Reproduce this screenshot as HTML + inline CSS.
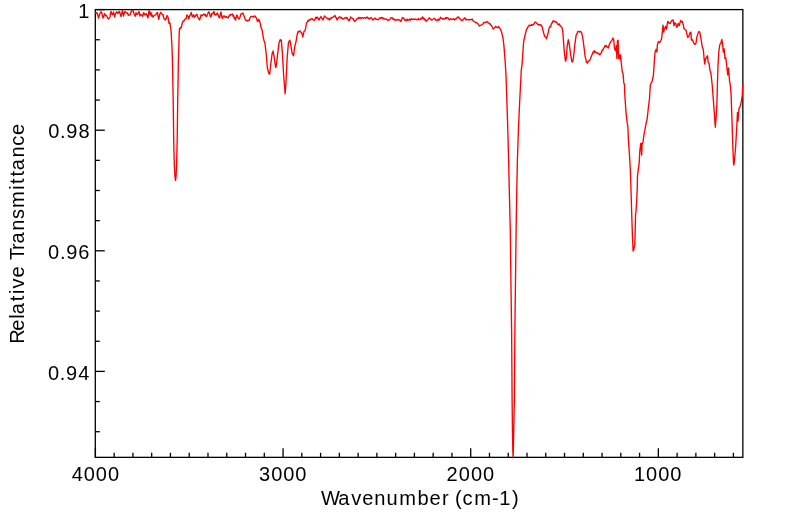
<!DOCTYPE html>
<html><head><meta charset="utf-8"><style>
html,body{margin:0;padding:0;background:#fff;}
body{width:799px;height:516px;overflow:hidden;}
svg{display:block;will-change:transform;}
text{font-family:"Liberation Sans",sans-serif;fill:#000;}
</style></head><body>
<svg width="799" height="516" viewBox="0 0 799 516">
<rect x="0" y="0" width="799" height="516" fill="#fff"/>
<defs><clipPath id="c"><rect x="94.3" y="8.6" width="649.5500000000001" height="449.25"/></clipPath></defs>
<g stroke="#000" stroke-width="1.3" fill="none">
<rect x="95.3" y="9.6" width="647.5500000000001" height="447.75"/>
<line x1="95.40" y1="457.35" x2="95.40" y2="448.35"/><line x1="114.17" y1="457.35" x2="114.17" y2="452.75"/><line x1="132.93" y1="457.35" x2="132.93" y2="452.75"/><line x1="151.69" y1="457.35" x2="151.69" y2="452.75"/><line x1="170.46" y1="457.35" x2="170.46" y2="452.75"/><line x1="189.23" y1="457.35" x2="189.23" y2="452.75"/><line x1="207.99" y1="457.35" x2="207.99" y2="452.75"/><line x1="226.76" y1="457.35" x2="226.76" y2="452.75"/><line x1="245.52" y1="457.35" x2="245.52" y2="452.75"/><line x1="264.29" y1="457.35" x2="264.29" y2="452.75"/><line x1="283.05" y1="457.35" x2="283.05" y2="448.35"/><line x1="301.82" y1="457.35" x2="301.82" y2="452.75"/><line x1="320.58" y1="457.35" x2="320.58" y2="452.75"/><line x1="339.35" y1="457.35" x2="339.35" y2="452.75"/><line x1="358.11" y1="457.35" x2="358.11" y2="452.75"/><line x1="376.88" y1="457.35" x2="376.88" y2="452.75"/><line x1="395.64" y1="457.35" x2="395.64" y2="452.75"/><line x1="414.40" y1="457.35" x2="414.40" y2="452.75"/><line x1="433.17" y1="457.35" x2="433.17" y2="452.75"/><line x1="451.94" y1="457.35" x2="451.94" y2="452.75"/><line x1="470.70" y1="457.35" x2="470.70" y2="448.35"/><line x1="489.47" y1="457.35" x2="489.47" y2="452.75"/><line x1="508.23" y1="457.35" x2="508.23" y2="452.75"/><line x1="527.00" y1="457.35" x2="527.00" y2="452.75"/><line x1="545.76" y1="457.35" x2="545.76" y2="452.75"/><line x1="564.52" y1="457.35" x2="564.52" y2="452.75"/><line x1="583.29" y1="457.35" x2="583.29" y2="452.75"/><line x1="602.06" y1="457.35" x2="602.06" y2="452.75"/><line x1="620.82" y1="457.35" x2="620.82" y2="452.75"/><line x1="639.59" y1="457.35" x2="639.59" y2="452.75"/><line x1="658.35" y1="457.35" x2="658.35" y2="448.35"/><line x1="677.12" y1="457.35" x2="677.12" y2="452.75"/><line x1="695.88" y1="457.35" x2="695.88" y2="452.75"/><line x1="714.64" y1="457.35" x2="714.64" y2="452.75"/><line x1="733.41" y1="457.35" x2="733.41" y2="452.75"/><line x1="95.3" y1="9.60" x2="104.8" y2="9.60"/><line x1="95.3" y1="39.75" x2="99.8" y2="39.75"/><line x1="95.3" y1="69.90" x2="99.8" y2="69.90"/><line x1="95.3" y1="100.05" x2="99.8" y2="100.05"/><line x1="95.3" y1="130.20" x2="104.8" y2="130.20"/><line x1="95.3" y1="160.35" x2="99.8" y2="160.35"/><line x1="95.3" y1="190.50" x2="99.8" y2="190.50"/><line x1="95.3" y1="220.65" x2="99.8" y2="220.65"/><line x1="95.3" y1="250.80" x2="104.8" y2="250.80"/><line x1="95.3" y1="280.95" x2="99.8" y2="280.95"/><line x1="95.3" y1="311.10" x2="99.8" y2="311.10"/><line x1="95.3" y1="341.25" x2="99.8" y2="341.25"/><line x1="95.3" y1="371.40" x2="104.8" y2="371.40"/><line x1="95.3" y1="401.55" x2="99.8" y2="401.55"/><line x1="95.3" y1="431.70" x2="99.8" y2="431.70"/>
</g>
<path d="M95.30,13.00 L95.87,12.71 L96.43,13.24 L97.00,12.75 L97.75,15.19 L98.50,18.00 L99.25,15.50 L100.00,13.50 L100.75,12.01 L101.50,12.00 L102.25,14.83 L103.00,18.00 L103.75,16.64 L104.50,13.50 L105.17,14.51 L105.83,15.66 L106.50,15.50 L107.17,16.87 L107.83,18.15 L108.50,19.00 L109.25,18.15 L110.00,17.00 L110.50,12.92 L111.00,11.50 L111.75,13.68 L112.50,14.50 L113.00,13.66 L113.50,12.00 L114.12,14.90 L114.75,17.00 L115.38,13.65 L116.00,13.00 L116.67,11.77 L117.33,12.62 L118.00,13.50 L118.75,12.13 L119.50,11.50 L120.25,14.24 L121.00,16.50 L121.75,13.46 L122.50,10.50 L123.00,13.67 L123.50,16.00 L124.25,13.24 L125.00,11.50 L125.67,12.25 L126.33,12.82 L127.00,13.00 L127.62,12.97 L128.25,15.37 L128.88,14.95 L129.50,15.00 L130.25,14.46 L131.00,12.00 L131.67,11.00 L132.33,10.41 L133.00,10.50 L133.50,11.97 L134.00,14.00 L134.62,15.04 L135.25,16.25 L136.00,12.75 L136.75,14.13 L137.50,14.50 L138.25,13.20 L139.00,11.50 L139.50,13.39 L140.00,16.00 L140.75,14.61 L141.50,14.75 L142.00,15.08 L142.50,16.25 L143.00,15.48 L143.50,12.75 L144.25,13.23 L145.00,15.00 L145.75,14.57 L146.50,13.75 L147.25,16.22 L148.00,18.00 L148.50,14.25 L149.00,10.50 L149.50,11.56 L150.00,15.00 L150.50,13.79 L151.00,12.50 L151.50,15.54 L152.00,16.50 L152.50,15.14 L153.00,17.00 L153.75,15.99 L154.50,15.50 L155.25,14.92 L156.00,14.50 L156.75,12.85 L157.50,12.50 L158.12,16.27 L158.75,19.25 L159.38,16.33 L160.00,13.50 L160.75,12.33 L161.50,13.50 L162.25,14.66 L163.00,14.50 L163.50,17.04 L164.00,18.50 L164.67,19.42 L165.33,19.99 L166.00,19.00 L166.50,17.54 L167.00,15.50 L167.50,16.35 L168.00,17.00 L168.50,20.25 L169.00,23.50 L169.50,22.46 L170.00,23.50 L170.50,26.75 L171.00,30.00 L171.60,40.00 L172.10,50.00 L172.40,60.00 L172.80,80.00 L173.20,100.00 L173.70,140.00 L174.30,165.00 L175.00,177.00 L175.50,180.30 L176.00,177.00 L176.60,165.00 L177.20,140.00 L177.70,100.00 L178.10,80.00 L178.40,60.00 L178.90,45.00 L179.20,34.00 L179.50,28.50 L180.10,28.66 L180.70,27.34 L181.30,27.50 L181.90,24.64 L182.50,22.50 L183.25,20.86 L184.00,21.25 L184.53,19.64 L185.07,19.16 L185.60,18.75 L186.23,18.73 L186.87,15.02 L187.50,15.60 L188.12,16.01 L188.75,18.75 L189.38,17.07 L190.00,15.00 L190.62,14.90 L191.25,12.50 L191.88,15.16 L192.50,16.90 L193.12,15.38 L193.75,14.89 L194.38,17.19 L195.00,16.90 L195.67,15.51 L196.33,14.40 L197.00,14.50 L197.62,16.66 L198.25,18.13 L198.88,18.75 L199.50,20.00 L200.25,17.70 L201.00,15.00 L201.60,15.15 L202.20,15.88 L202.80,14.90 L203.40,14.61 L204.00,14.00 L204.67,15.27 L205.33,14.41 L206.00,16.50 L206.62,16.40 L207.25,15.01 L207.88,13.55 L208.50,12.00 L209.17,12.09 L209.83,14.83 L210.50,17.00 L211.10,16.67 L211.70,13.55 L212.30,13.85 L212.90,13.82 L213.50,12.00 L214.12,11.70 L214.75,14.79 L215.38,14.69 L216.00,15.00 L216.75,13.88 L217.50,13.00 L218.17,14.93 L218.83,16.85 L219.50,18.00 L220.25,15.10 L221.00,12.00 L221.50,15.00 L222.00,18.00 L222.67,18.25 L223.33,16.14 L224.00,16.00 L224.60,15.97 L225.20,17.43 L225.80,16.92 L226.40,16.50 L227.00,17.50 L227.62,17.88 L228.25,17.92 L228.88,16.02 L229.50,16.00 L230.10,14.50 L230.70,15.09 L231.30,14.68 L231.90,14.16 L232.50,14.00 L233.10,16.32 L233.70,15.58 L234.30,18.61 L234.90,17.79 L235.50,20.00 L236.25,16.87 L237.00,15.00 L237.67,16.84 L238.33,18.57 L239.00,19.00 L239.67,18.02 L240.33,15.94 L241.00,14.00 L241.67,13.78 L242.33,13.46 L243.00,13.00 L243.62,15.21 L244.25,16.36 L244.88,18.47 L245.50,20.00 L246.12,20.58 L246.75,20.25 L247.38,20.99 L248.00,20.50 L248.62,20.08 L249.25,20.36 L249.88,18.13 L250.50,17.00 L251.12,16.53 L251.75,16.45 L252.38,16.61 L253.00,16.50 L253.67,17.07 L254.33,15.90 L255.00,16.00 L255.75,17.31 L256.50,18.00 L257.25,21.22 L258.00,21.50 L258.75,19.20 L259.50,21.00 L260.25,23.35 L261.00,27.50 L261.50,28.70 L262.00,29.50 L262.70,33.80 L263.40,38.10 L263.93,40.25 L264.47,41.96 L265.00,43.60 L265.55,48.30 L266.10,53.00 L266.75,60.50 L267.40,68.00 L268.10,70.48 L268.80,73.40 L269.70,74.10 L270.25,69.00 L270.80,63.90 L271.50,58.50 L272.20,53.10 L272.65,52.38 L273.10,51.00 L273.65,54.19 L274.20,57.10 L274.90,62.20 L275.60,67.30 L276.20,66.60 L276.90,60.50 L277.60,54.40 L278.30,48.65 L279.00,42.90 L279.65,40.94 L280.30,39.50 L280.80,41.07 L281.30,40.20 L281.85,46.65 L282.40,53.10 L283.05,64.60 L283.70,76.10 L284.40,84.95 L285.10,93.80 L285.80,85.00 L286.50,72.00 L287.20,57.00 L287.85,49.60 L288.50,42.20 L289.15,41.38 L289.80,40.20 L290.30,42.27 L290.80,44.90 L291.45,49.00 L292.10,53.10 L292.80,54.40 L293.50,55.80 L294.15,51.05 L294.80,46.30 L295.35,44.14 L295.90,42.20 L296.60,38.12 L297.30,34.10 L297.95,31.69 L298.60,32.00 L299.30,31.16 L300.00,30.80 L300.75,32.10 L301.50,32.50 L302.15,34.22 L302.80,37.00 L303.40,34.22 L304.00,31.50 L304.75,30.68 L305.50,29.00 L306.00,26.00 L306.50,23.00 L307.25,22.14 L308.00,20.50 L308.67,21.00 L309.33,19.40 L310.00,20.00 L310.67,19.34 L311.33,18.85 L312.00,18.50 L312.75,19.53 L313.50,20.00 L314.25,20.24 L315.00,19.50 L315.67,17.46 L316.33,18.32 L317.00,17.00 L317.67,17.35 L318.33,19.31 L319.00,20.00 L319.67,18.16 L320.33,17.75 L321.00,16.50 L321.67,18.20 L322.33,18.77 L323.00,20.00 L323.75,18.09 L324.50,16.00 L325.12,16.86 L325.75,17.06 L326.38,17.46 L327.00,18.00 L327.60,18.89 L328.20,18.87 L328.80,18.47 L329.40,20.04 L330.00,19.00 L330.60,18.08 L331.20,18.61 L331.80,17.68 L332.40,17.46 L333.00,17.00 L333.67,16.82 L334.33,16.10 L335.00,15.50 L335.67,17.29 L336.33,17.81 L337.00,20.00 L337.67,18.32 L338.33,18.28 L339.00,17.00 L339.67,16.90 L340.33,17.20 L341.00,18.00 L341.60,17.44 L342.20,18.77 L342.80,18.64 L343.40,19.06 L344.00,18.50 L344.60,17.88 L345.20,18.10 L345.80,17.39 L346.40,18.04 L347.00,17.50 L347.67,19.38 L348.33,19.43 L349.00,21.00 L349.75,19.70 L350.50,17.00 L351.17,17.94 L351.83,17.92 L352.50,18.50 L353.12,18.36 L353.75,20.63 L354.38,20.71 L355.00,21.50 L355.67,20.23 L356.33,19.68 L357.00,18.50 L357.60,18.48 L358.20,18.77 L358.80,17.44 L359.40,18.21 L360.00,17.50 L360.60,18.27 L361.20,18.35 L361.80,17.72 L362.40,17.57 L363.00,18.00 L363.60,18.36 L364.20,17.85 L364.80,17.76 L365.40,18.24 L366.00,17.50 L366.60,17.68 L367.20,17.07 L367.80,18.23 L368.40,17.87 L369.00,19.00 L369.67,18.87 L370.33,18.14 L371.00,17.50 L371.67,18.06 L372.33,19.16 L373.00,20.00 L373.67,19.71 L374.33,18.70 L375.00,18.00 L375.67,19.10 L376.33,18.97 L377.00,19.50 L377.60,19.67 L378.20,19.57 L378.80,19.32 L379.40,18.00 L380.00,18.00 L380.62,18.52 L381.25,17.41 L381.88,17.89 L382.50,17.62 L383.12,19.11 L383.75,18.20 L384.38,18.87 L385.00,19.00 L385.57,19.06 L386.14,19.27 L386.71,19.16 L387.29,19.68 L387.86,20.52 L388.43,19.88 L389.00,20.00 L389.67,19.41 L390.33,18.78 L391.00,17.50 L391.58,17.83 L392.17,17.77 L392.75,18.50 L393.33,19.65 L393.92,18.84 L394.50,20.00 L395.08,19.65 L395.67,20.29 L396.25,20.11 L396.83,19.67 L397.42,19.95 L398.00,19.50 L398.56,19.97 L399.12,19.77 L399.68,20.00 L400.24,20.81 L400.80,21.50 L401.37,20.58 L401.93,18.58 L402.50,17.50 L403.12,17.84 L403.75,18.65 L404.38,19.06 L405.00,20.50 L405.57,20.38 L406.14,19.83 L406.71,20.45 L407.29,19.15 L407.86,20.29 L408.43,19.78 L409.00,20.00 L409.60,19.03 L410.20,20.13 L410.80,19.58 L411.40,18.60 L412.00,19.11 L412.60,19.53 L413.20,19.09 L413.80,19.55 L414.40,19.44 L415.00,19.00 L415.57,19.37 L416.14,19.29 L416.71,19.81 L417.29,19.58 L417.86,19.56 L418.43,18.49 L419.00,19.50 L419.57,19.62 L420.14,19.52 L420.71,18.51 L421.29,18.15 L421.86,18.94 L422.43,16.99 L423.00,17.50 L423.58,18.29 L424.17,19.76 L424.75,18.83 L425.33,20.14 L425.92,21.27 L426.50,21.00 L427.12,20.20 L427.75,19.75 L428.38,19.16 L429.00,18.00 L429.60,17.99 L430.20,18.76 L430.80,19.33 L431.40,19.97 L432.00,20.00 L432.67,19.48 L433.33,18.91 L434.00,18.50 L434.62,18.54 L435.25,19.34 L435.88,20.40 L436.50,20.50 L437.06,20.23 L437.62,19.49 L438.19,19.18 L438.75,20.45 L439.31,19.45 L439.88,18.91 L440.44,17.15 L441.00,18.00 L441.57,18.42 L442.14,18.50 L442.71,19.19 L443.29,18.76 L443.86,18.68 L444.43,19.09 L445.00,19.00 L445.67,17.63 L446.33,18.46 L447.00,17.50 L447.60,18.05 L448.20,17.98 L448.80,19.30 L449.40,19.91 L450.00,19.50 L450.62,18.81 L451.25,19.08 L451.88,19.44 L452.50,19.33 L453.12,19.01 L453.75,18.69 L454.38,20.02 L455.00,19.00 L455.75,19.22 L456.50,18.50 L457.17,17.46 L457.83,16.89 L458.50,17.00 L459.25,18.52 L460.00,18.50 L460.62,19.45 L461.25,20.32 L461.88,20.36 L462.50,20.50 L463.17,19.27 L463.83,18.95 L464.50,18.00 L465.25,18.03 L466.00,20.00 L466.67,19.50 L467.33,19.64 L468.00,19.50 L468.67,19.90 L469.33,19.51 L470.00,20.00 L470.67,19.61 L471.33,19.54 L472.00,19.00 L472.67,20.00 L473.33,20.95 L474.00,21.50 L474.60,21.89 L475.20,21.95 L475.80,22.76 L476.40,22.72 L477.00,23.00 L477.62,23.38 L478.25,24.22 L478.88,25.25 L479.50,26.00 L480.12,25.58 L480.75,25.32 L481.38,24.87 L482.00,24.50 L482.62,24.08 L483.25,23.44 L483.88,22.43 L484.50,22.50 L485.12,22.44 L485.75,22.47 L486.38,21.95 L487.00,21.50 L487.62,22.04 L488.25,22.95 L488.88,22.94 L489.50,24.00 L490.12,23.77 L490.75,25.28 L491.38,25.46 L492.00,26.50 L492.75,28.08 L493.50,29.00 L494.25,27.76 L495.00,27.50 L495.67,26.32 L496.33,27.03 L497.00,27.50 L497.75,27.71 L498.50,26.50 L499.25,27.53 L500.00,28.90 L500.57,29.21 L501.13,30.71 L501.70,32.30 L502.30,35.26 L502.90,37.60 L503.35,41.00 L503.80,44.40 L504.60,54.10 L505.30,63.80 L506.00,75.00 L506.80,99.00 L507.30,114.50 L507.80,130.00 L508.60,160.00 L509.30,190.00 L509.90,215.00 L510.30,230.00 L510.90,280.00 L511.60,330.00 L511.90,370.00 L512.10,400.00 L512.45,430.00 L512.80,450.00 L513.05,457.60 L513.35,450.00 L513.75,430.00 L514.35,400.00 L514.60,370.00 L514.90,330.00 L515.50,280.00 L516.10,230.00 L516.60,200.00 L517.40,160.00 L517.90,145.00 L518.40,130.00 L519.10,114.50 L519.80,99.00 L520.55,84.50 L521.30,70.00 L522.10,63.80 L522.80,54.10 L523.40,44.40 L524.00,39.60 L524.60,37.45 L525.20,34.70 L525.90,31.91 L526.60,28.90 L527.35,28.59 L528.10,26.50 L528.60,26.22 L529.10,25.10 L529.65,25.39 L530.20,25.70 L530.80,25.46 L531.40,24.50 L531.97,25.49 L532.53,25.08 L533.10,24.50 L533.70,24.56 L534.30,23.40 L535.00,22.15 L535.70,22.20 L536.45,22.71 L537.20,23.40 L537.95,24.69 L538.70,25.10 L539.40,24.62 L540.10,24.50 L540.70,25.44 L541.30,25.10 L541.85,26.61 L542.40,27.40 L543.00,30.59 L543.60,32.70 L544.50,36.20 L545.20,36.62 L545.90,37.30 L546.40,38.83 L546.90,37.30 L547.45,36.04 L548.00,33.30 L548.70,30.22 L549.40,27.40 L550.00,26.49 L550.60,27.02 L551.20,24.50 L551.77,23.13 L552.33,22.69 L552.90,21.00 L553.50,21.59 L554.10,21.00 L554.80,21.60 L555.50,22.20 L556.25,21.80 L557.00,22.80 L557.55,23.76 L558.10,24.50 L558.70,24.47 L559.30,24.00 L559.90,25.53 L560.50,25.70 L561.25,27.02 L562.00,27.40 L562.80,32.10 L563.60,42.60 L564.50,54.20 L565.00,57.70 L565.50,61.20 L566.30,58.80 L567.10,47.20 L567.70,43.45 L568.30,39.70 L568.85,42.31 L569.40,44.90 L570.00,49.55 L570.60,54.20 L571.15,57.70 L571.70,61.20 L572.20,61.96 L572.70,61.70 L573.60,56.50 L574.20,50.70 L574.80,44.90 L575.50,39.95 L576.20,35.00 L576.77,34.16 L577.33,32.79 L577.90,31.50 L578.42,31.56 L578.95,31.40 L579.48,31.99 L580.00,31.60 L580.57,31.37 L581.13,32.02 L581.70,32.80 L582.30,35.70 L582.90,38.60 L583.50,43.25 L584.10,47.90 L584.65,52.55 L585.20,57.20 L585.80,58.92 L586.40,62.40 L587.00,62.44 L587.60,63.00 L588.17,61.03 L588.73,61.06 L589.30,60.70 L589.87,59.87 L590.43,58.71 L591.00,57.20 L591.60,55.80 L592.20,54.33 L592.80,53.10 L593.37,51.48 L593.93,52.66 L594.50,50.80 L595.10,51.71 L595.70,52.66 L596.30,52.60 L596.87,52.44 L597.43,53.22 L598.00,53.70 L598.75,53.21 L599.50,54.90 L600.20,54.47 L600.90,53.10 L601.50,52.69 L602.10,50.03 L602.70,50.20 L603.25,49.02 L603.80,47.90 L604.40,47.71 L605.00,45.71 L605.60,46.20 L606.17,45.47 L606.73,46.29 L607.30,47.30 L607.90,47.22 L608.50,47.90 L609.10,45.01 L609.70,43.80 L610.25,42.67 L610.80,41.50 L611.40,41.05 L612.00,40.30 L612.90,38.00 L613.70,39.80 L614.50,47.90 L615.00,49.73 L615.50,50.80 L616.30,45.60 L616.90,58.40 L617.40,40.90 L618.10,40.30 L618.60,58.40 L619.50,54.90 L620.10,59.50 L620.70,54.90 L621.10,61.20 L621.60,65.95 L622.10,70.70 L622.60,72.82 L623.10,74.10 L623.80,82.90 L624.40,84.30 L624.80,95.00 L625.45,104.30 L626.10,113.60 L626.70,118.65 L627.30,123.70 L627.80,126.00 L628.50,141.50 L629.05,149.25 L629.60,157.00 L630.40,171.30 L631.10,192.60 L631.80,217.00 L632.50,237.50 L633.10,251.00 L633.80,249.70 L634.50,245.60 L634.80,244.30 L635.20,230.70 L635.60,213.70 L635.90,213.00 L636.50,203.60 L637.20,190.00 L637.50,175.60 L638.07,171.33 L638.63,167.07 L639.20,162.80 L639.80,151.10 L640.30,147.20 L640.80,143.30 L641.25,149.15 L641.70,155.00 L642.10,143.30 L642.60,143.25 L643.10,141.40 L643.60,137.50 L644.10,133.60 L644.85,130.45 L645.60,125.90 L646.30,122.21 L647.00,120.10 L647.65,114.25 L648.30,108.40 L648.90,103.60 L649.50,98.80 L650.30,85.20 L650.93,83.60 L651.57,81.96 L652.20,81.30 L652.80,77.75 L653.40,75.50 L653.95,67.15 L654.50,58.80 L655.10,51.90 L656.00,49.50 L656.90,51.90 L657.40,44.90 L657.90,43.10 L658.40,41.40 L658.95,42.00 L659.50,42.60 L660.10,41.99 L660.70,40.80 L661.50,39.10 L662.30,32.10 L663.00,25.10 L663.80,32.10 L664.25,29.40 L664.70,28.60 L665.60,26.30 L666.50,29.20 L667.10,25.40 L667.70,21.60 L668.40,21.76 L669.10,23.40 L669.65,23.39 L670.20,23.40 L670.80,22.08 L671.40,21.00 L671.97,20.45 L672.53,20.23 L673.10,19.90 L674.00,25.70 L674.90,22.80 L675.45,23.19 L676.00,24.50 L676.50,26.37 L677.00,27.40 L677.55,25.61 L678.10,23.40 L678.70,24.50 L679.30,25.70 L680.00,22.70 L680.70,20.50 L681.30,21.25 L681.90,22.20 L682.45,21.47 L683.00,24.00 L683.50,25.71 L684.00,28.60 L684.65,29.22 L685.30,29.80 L685.90,30.05 L686.50,32.10 L687.10,34.82 L687.70,37.30 L688.60,36.70 L689.30,34.79 L690.00,32.70 L690.90,32.10 L691.40,40.20 L692.00,39.37 L692.60,40.20 L693.15,41.50 L693.70,43.10 L694.30,43.51 L694.90,44.30 L695.45,43.98 L696.00,43.10 L696.50,39.65 L697.00,36.20 L697.60,34.97 L698.20,32.98 L698.80,31.40 L699.40,31.74 L700.00,33.10 L700.60,36.51 L701.20,40.10 L701.75,43.60 L702.30,47.10 L702.80,48.21 L703.30,49.40 L704.10,58.70 L704.70,64.00 L705.60,58.70 L706.15,58.29 L706.70,57.00 L707.60,55.80 L708.10,62.20 L708.60,62.98 L709.10,63.40 L709.90,70.30 L710.50,71.50 L711.00,73.80 L711.60,79.40 L712.20,85.00 L712.73,92.00 L713.27,99.00 L713.80,106.00 L714.55,116.65 L715.30,127.30 L715.80,120.95 L716.30,114.60 L716.90,104.00 L717.40,85.00 L718.00,65.70 L718.80,51.70 L719.30,48.25 L719.80,44.80 L720.35,43.77 L720.90,43.60 L721.40,40.74 L721.90,39.50 L722.70,45.30 L723.30,52.30 L723.75,50.33 L724.20,48.80 L725.00,58.70 L725.80,57.60 L726.25,61.65 L726.70,65.70 L727.20,70.35 L727.70,75.00 L728.50,68.00 L729.00,74.40 L729.50,80.80 L730.00,83.26 L730.50,86.60 L731.10,95.00 L731.60,109.50 L732.10,124.00 L732.80,146.00 L733.50,163.00 L733.90,165.00 L734.50,160.00 L735.10,152.95 L735.70,145.90 L736.30,134.95 L736.90,124.00 L737.50,112.40 L738.00,121.20 L738.90,109.50 L739.50,107.38 L740.10,106.60 L740.80,103.70 L741.50,100.80 L742.30,95.00 L742.90,83.00" fill="none" stroke="#ff0000" stroke-width="1.35" stroke-linejoin="round" clip-path="url(#c)"/>
<g>
<text transform="translate(80.05,17.90)" font-size="20.0" x="-1.71" y="0">1</text>
<text transform="translate(49.00,138.10)" font-size="20.0" x="-0.77 11.07 17.29 29.44" y="0">0.98</text>
<text transform="translate(48.89,259.10)" font-size="20.0" x="-0.77 11.07 17.29 29.44" y="0">0.96</text>
<text transform="translate(48.76,380.20)" font-size="20.0" x="-0.77 11.07 17.29 29.44" y="0">0.94</text>
<text transform="translate(72.12,481.00)" font-size="20.0" x="-0.45 11.64 23.73 35.82" y="0">4000</text>
<text transform="translate(260.03,481.00)" font-size="20.0" x="-0.94 11.12 23.21 35.30" y="0">3000</text>
<text transform="translate(447.65,481.00)" font-size="20.0" x="-1.16 11.17 23.26 35.35" y="0">2000</text>
<text transform="translate(635.65,481.00)" font-size="20.0" x="-1.71 10.48 22.57 34.66" y="0">1000</text>
<text transform="translate(321.60,504.90)" font-size="20.1" x="-0.64 16.72 29.60 40.69 52.71 64.83 77.61 95.96 107.91 120.36 125.36 133.32 140.96 152.55 170.39 177.63 190.37" y="0">Wavenumber (cm-1)</text>
<text transform="translate(24.00,341.70) rotate(-90)" font-size="20.1" x="-2.16 10.97 22.89 27.38 40.53 47.60 53.16 64.25 69.25 81.58 91.71 98.22 110.98 122.76 133.71 151.87 157.70 165.25 171.44 184.21 195.90 206.81" y="0">Relative Transmittance</text>
</g>
</svg>
</body></html>
